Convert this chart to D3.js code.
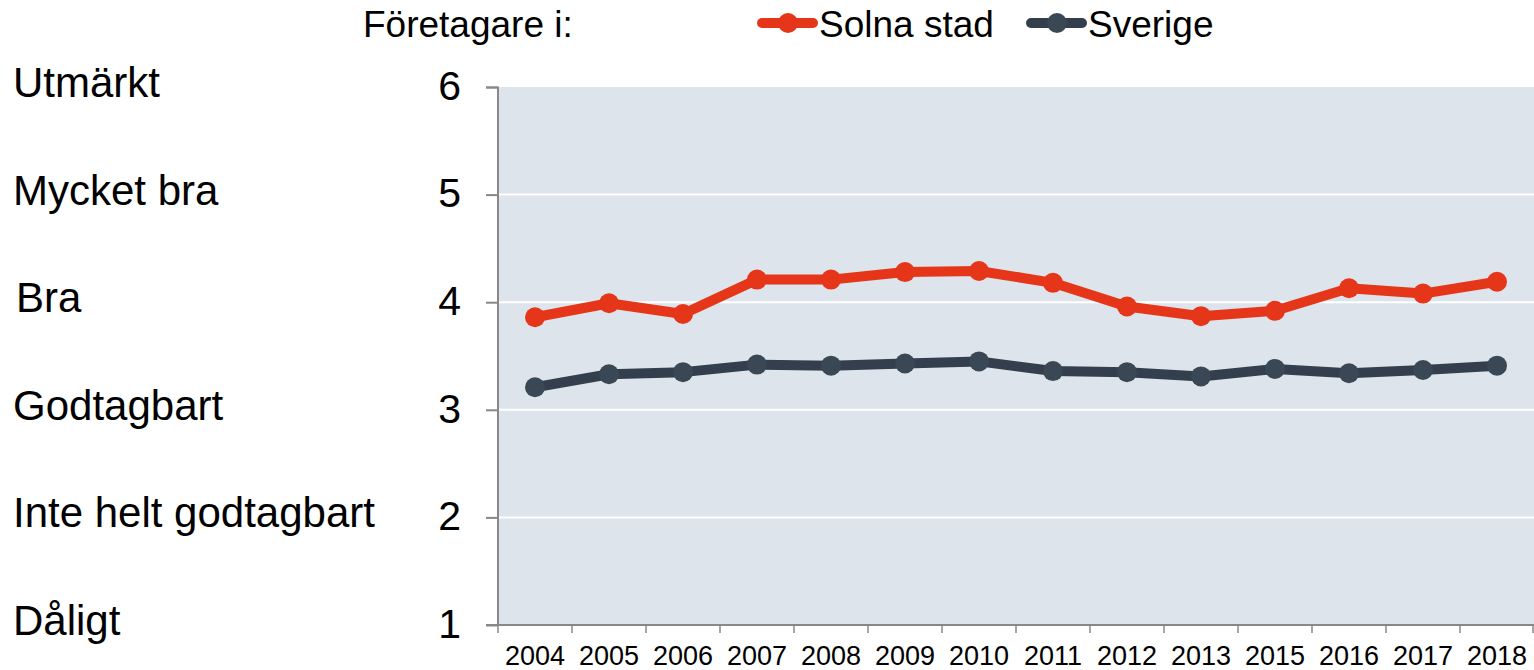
<!DOCTYPE html>
<html>
<head>
<meta charset="utf-8">
<script src="https://cdn.jsdelivr.net/npm/d3@7"></script>
<style>
  html, body { margin: 0; padding: 0; background: #fff; }
  svg { display: block; font-family: "Liberation Sans", Arial, sans-serif; }
</style>
</head>
<body>
<svg id="chart" width="1534" height="670"></svg>
<script>
const years = ['2004', '2005', '2006', '2007', '2008', '2009', '2010', '2011', '2012', '2013', '2015', '2016', '2017', '2018'];
const solna = [3.86, 3.99, 3.89, 4.21, 4.21, 4.28, 4.29, 4.18, 3.96, 3.87, 3.92, 4.13, 4.08, 4.19];
const sverige = [3.21, 3.33, 3.35, 3.42, 3.41, 3.43, 3.45, 3.36, 3.35, 3.31, 3.38, 3.34, 3.37, 3.41];
const yTicks = [1, 2, 3, 4, 5, 6];
const ratingLabels = ['Dåligt', 'Inte helt godtagbart', 'Godtagbart', 'Bra', 'Mycket bra', 'Utmärkt'];
const seriesNames = ['Solna stad', 'Sverige'];
const legendTitle = 'Företagare i:';

const colors = { 'Solna stad': '#e5361a', 'Sverige': '#333f4c' };
const dotColors = { 'Solna stad': '#e5361a', 'Sverige': '#3a4856' };

const margin = { top: 87, right: 0, bottom: 45, left: 498 };
const svg = d3.select('#chart');
const W = +svg.attr('width');
const H = +svg.attr('height');
const width = W - margin.left - margin.right;
const height = H - margin.top - margin.bottom;

const x = d3.scaleBand().domain(years).range([0, width]);
const y = d3.scaleLinear().domain([1, 6]).range([height, 0]);

const g = svg.append('g').attr('transform', `translate(${margin.left},${margin.top})`);

// plot background
g.append('rect')
  .attr('x', 1).attr('y', 0)
  .attr('width', width - 1).attr('height', height)
  .attr('fill', '#dde4eb');

// gridlines
g.append('g')
  .selectAll('line')
  .data(yTicks.filter(d => d > 1 && d < 6))
  .join('line')
  .attr('x1', 1).attr('x2', width)
  .attr('y1', d => y(d)).attr('y2', d => y(d))
  .attr('stroke', '#fff').attr('stroke-width', 2);

// y axis
const axisY = g.append('g')
  .call(d3.axisLeft(y).tickValues(yTicks).tickSize(12).tickPadding(25).tickFormat(d3.format('d')));
axisY.select('.domain').attr('stroke', '#888').attr('stroke-width', 2).attr('d', `M-12,0.5H0V${height}`);
axisY.selectAll('.tick line').attr('stroke', '#888').attr('stroke-width', 2);
axisY.selectAll('.tick text').attr('font-size', 41).attr('fill', '#000').attr('dy', '0.3em');

// x axis
const axisX = g.append('g')
  .attr('transform', `translate(0,${height})`)
  .call(d3.axisBottom(x).tickSize(0).tickPadding(21));
axisX.select('.domain').attr('stroke', '#888').attr('stroke-width', 2).attr('d', `M-12,0H${width}`);
axisX.selectAll('.tick text').attr('font-size', 27).attr('fill', '#000');
g.append('g')
  .attr('transform', `translate(0,${height})`)
  .selectAll('line')
  .data(years.concat(['end']))
  .join('line')
  .attr('x1', (d, i) => Math.min(i * x.step(), width - 1))
  .attr('x2', (d, i) => Math.min(i * x.step(), width - 1))
  .attr('y1', 0).attr('y2', 8)
  .attr('stroke', '#888').attr('stroke-width', 1.5);

// rating labels on the left
svg.append('g')
  .selectAll('text')
  .data(ratingLabels)
  .join('text')
  .attr('x', d => d === 'Bra' ? 16 : 13)
  .attr('y', (d, i) => margin.top + y(yTicks[i]) + 10)
  .attr('font-size', 42)
  .attr('fill', '#000')
  .text(d => d);

// lines
const series = [
  { name: seriesNames[0], values: solna },
  { name: seriesNames[1], values: sverige }
];
const line = d3.line()
  .x((d, i) => x(years[i]) + x.bandwidth() / 2)
  .y(d => y(d));

const sg = g.selectAll('.series')
  .data(series.slice().reverse())
  .join('g')
  .attr('class', 'series');

sg.append('path')
  .attr('d', d => line(d.values))
  .attr('fill', 'none')
  .attr('stroke', d => colors[d.name])
  .attr('stroke-width', 10)
  .attr('stroke-linejoin', 'round');

sg.selectAll('circle')
  .data(d => d.values.map(v => ({ name: d.name, v })))
  .join('circle')
  .attr('cx', (d, i) => x(years[i]) + x.bandwidth() / 2)
  .attr('cy', d => y(d.v))
  .attr('r', 10)
  .attr('fill', d => dotColors[d.name]);

// legend
const legend = svg.append('g');
legend.append('text')
  .attr('x', 363).attr('y', 37)
  .attr('font-size', 37).attr('fill', '#000')
  .text(legendTitle);

const legendX = [757, 1026];
const li = legend.selectAll('.li')
  .data(seriesNames)
  .join('g')
  .attr('transform', (d, i) => `translate(${legendX[i]},23)`);
li.append('line')
  .attr('x1', 5).attr('x2', 56)
  .attr('stroke', d => colors[d])
  .attr('stroke-width', 10)
  .attr('stroke-linecap', 'round');
li.append('circle')
  .attr('cx', 31).attr('r', 10)
  .attr('fill', d => dotColors[d]);
li.append('text')
  .attr('x', 62).attr('y', 14)
  .attr('font-size', 37).attr('fill', '#000')
  .text(d => d);
</script>
</body>
</html>
